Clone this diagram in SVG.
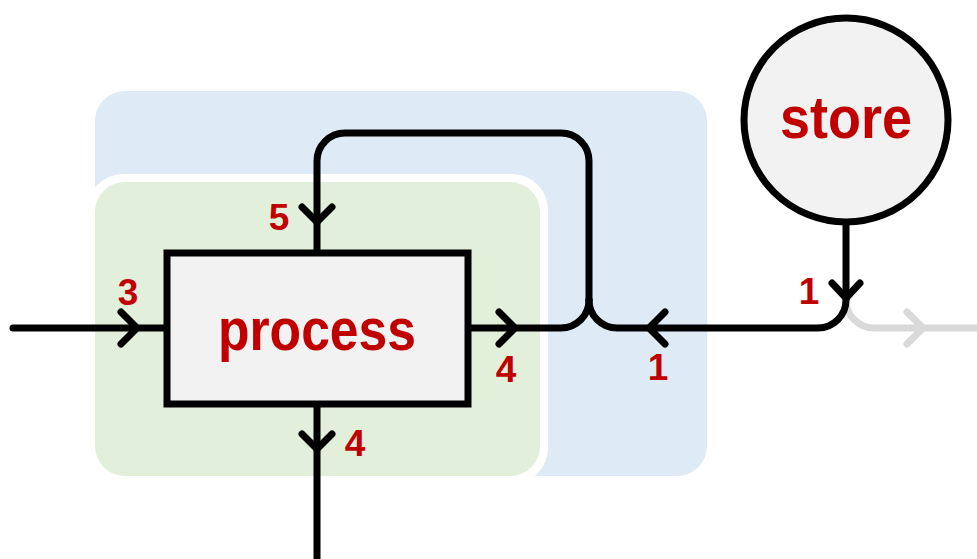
<svg xmlns="http://www.w3.org/2000/svg" width="977" height="559" viewBox="0 0 977 559">
  <style>
    .wire { fill: none; stroke: #000; stroke-width: 7; stroke-linecap: round; stroke-linejoin: round; }
    .ghost { fill: none; stroke: #d9d9d9; stroke-width: 7; stroke-linecap: round; stroke-linejoin: round; }
    .chev { fill: none; stroke: #000; stroke-width: 7; stroke-linecap: round; stroke-linejoin: miter; }
    .chev-ghost { fill: none; stroke: #d9d9d9; stroke-width: 7; stroke-linecap: round; stroke-linejoin: miter; }
    .name { font-family: "Liberation Sans", Arial, sans-serif; font-weight: bold; fill: #c00000; text-anchor: middle; }
    .num { font-family: "Liberation Sans", Arial, sans-serif; font-weight: bold; font-size: 37px; fill: #c00000; text-anchor: middle; }
  </style>

  <!-- background regions -->
  <g id="outer-region">
    <rect x="95" y="91" width="612" height="385" rx="30" fill="#deeaf6"/>
  </g>
  <g id="inner-region">
    <rect x="87" y="174" width="461" height="310" rx="36" fill="#ffffff"/>
    <rect x="95" y="182" width="445" height="294" rx="30" fill="#e2efda"/>
  </g>

  <!-- connectors -->
  <g id="connectors">
    <path class="ghost" d="M846,300 A28,28 0 0 0 874,328 H977"/>
    <path class="chev-ghost" d="M907,312 L923,328 L907,344"/>

    <path class="wire" d="M13,328 H167"/>
    <path class="wire" d="M317,253 V161 A28,28 0 0 1 345,133 H561 A28,28 0 0 1 589,161 V300"/>
    <path class="wire" d="M468,328 H561 A28,28 0 0 0 589,300"/>
    <path class="wire" d="M589,300 A28,28 0 0 0 617,328 H818 A28,28 0 0 0 846,300 V222"/>
    <path class="wire" d="M317,404 V559"/>

    <path class="chev" d="M121,312 L137,328 L121,344"/>
    <path class="chev" d="M499,312 L515,328 L499,344"/>
    <path class="chev" d="M665,312 L649,328 L665,344"/>
    <path class="chev" d="M302,207 L317,222 L332,207"/>
    <path class="chev" d="M302,434 L317,449 L332,434"/>
    <path class="chev" d="M832,283 L846,298 L860,283"/>
  </g>

  <!-- process box -->
  <g id="process">
    <rect x="167" y="253" width="301" height="151" fill="#f2f2f2" stroke="#000" stroke-width="7"/>
    <text class="name" x="317" y="350" font-size="59" textLength="198" lengthAdjust="spacingAndGlyphs">process</text>
  </g>

  <!-- store circle -->
  <g id="store">
    <circle cx="846" cy="120" r="102" fill="#f2f2f2" stroke="#000" stroke-width="7"/>
    <text class="name" x="846" y="138" font-size="59" textLength="132" lengthAdjust="spacingAndGlyphs">store</text>
  </g>

  <!-- flow labels -->
  <g id="labels">
    <text class="num" x="128" y="305">3</text>
    <text class="num" x="279" y="230">5</text>
    <text class="num" x="506" y="382">4</text>
    <text class="num" x="658" y="380">1</text>
    <text class="num" x="355" y="456">4</text>
    <text class="num" x="809" y="304">1</text>
  </g>
</svg>
